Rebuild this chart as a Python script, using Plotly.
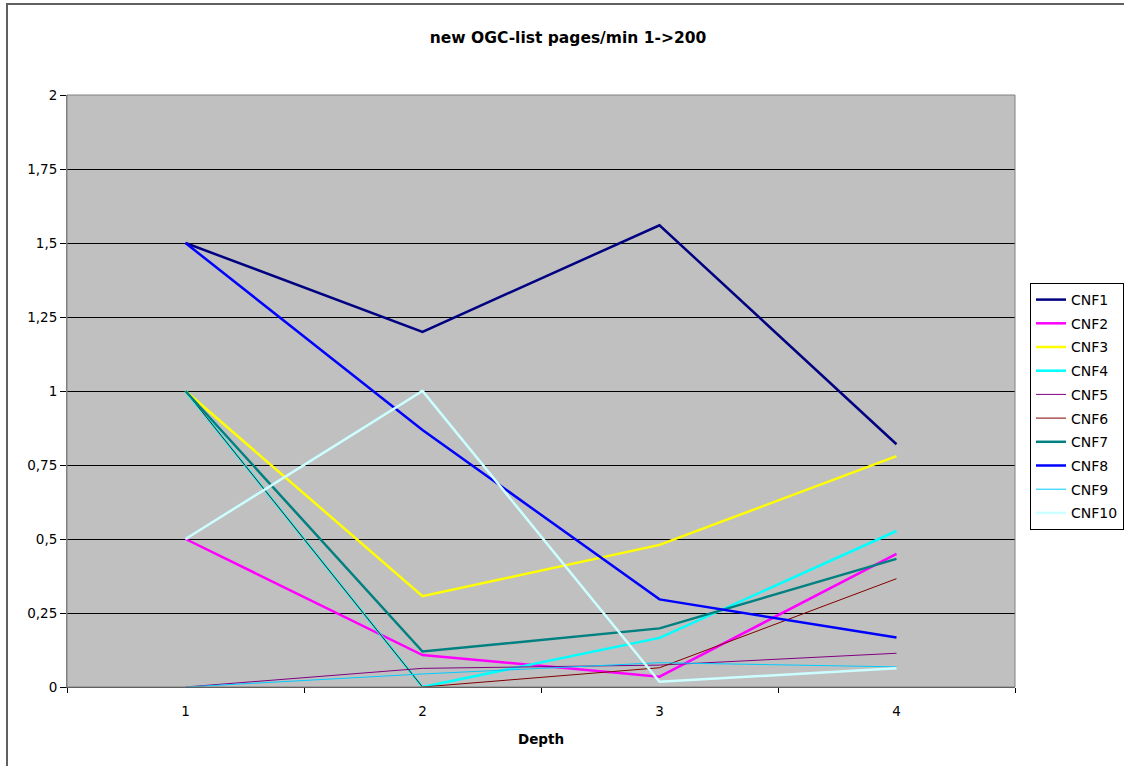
import plotly.graph_objects as go

# Crawl depth levels on the x axis
depth = [1, 2, 3, 4]

# Throughput (pages/min) per configuration at each depth
cnf1 = [1.5, 1.2, 1.56, 0.82]
cnf2 = [0.5, 0.108, 0.035, 0.45]
cnf3 = [1.0, 0.307, 0.48, 0.78]
cnf4 = [1.0, 0.0, 0.166, 0.527]
cnf5 = [0.0, 0.063, 0.074, 0.114]
cnf6 = [1.0, 0.0, 0.065, 0.366]
cnf7 = [1.0, 0.12, 0.198, 0.433]
cnf8 = [1.5, 0.868, 0.296, 0.167]
cnf9 = [0.0, 0.044, 0.082, 0.068]
cnf10 = [0.5, 1.0, 0.018, 0.063]

y_ticks = [0, 0.25, 0.5, 0.75, 1, 1.25, 1.5, 1.75, 2]

series = [
    ("CNF1", cnf1, "#000080", 2.5),
    ("CNF2", cnf2, "#FF00FF", 2.5),
    ("CNF3", cnf3, "#FFFF00", 2.5),
    ("CNF4", cnf4, "#00FFFF", 2.5),
    ("CNF5", cnf5, "#800080", 1),
    ("CNF6", cnf6, "#800000", 1),
    ("CNF7", cnf7, "#008080", 2.5),
    ("CNF8", cnf8, "#0000FF", 2.5),
    ("CNF9", cnf9, "#00CCFF", 1),
    ("CNF10", cnf10, "#CCFFFF", 2.5),
]

FONT = "DejaVu Sans"
W, H = 1124, 766
L, R, T, B = 67, 109, 95, 79
PW, PH = W - L - R, H - T - B

fig = go.Figure()
for name, vals, color, width in series:
    fig.add_trace(go.Scatter(
        x=depth, y=vals, mode="lines", name=name,
        line=dict(color=color, width=width),
        legendgroup=name,
        hoverinfo="x+y+name",
    ))

# Invisible trace that carries the category-boundary tick marks
fig.add_trace(go.Scatter(x=[0.5, 4.5], y=[0, 0], xaxis="x2", mode="lines",
                         line=dict(width=0), showlegend=False, hoverinfo="skip"))

fig.update_layout(
    width=W, height=H,
    separators=",.",
    paper_bgcolor="white",
    plot_bgcolor="#C0C0C0",
    margin=dict(l=L, r=R, t=T, b=B, autoexpand=False),
    font=dict(family=FONT, size=13.5, color="black"),
    title=dict(text="<b>new OGC-list pages/min 1->200</b>",
               x=568 / W, xref="container", xanchor="center",
               y=1 - 38 / H, yref="container", yanchor="middle",
               font=dict(family=FONT, size=15.5, color="black")),
    showlegend=True,
    legend=dict(
        x=(1030 - L) / PW, xanchor="left",
        y=(H - B - 283) / PH, yanchor="top",
        bgcolor="white", bordercolor="black", borderwidth=1,
        font=dict(family=FONT, size=14, color="black"),
        tracegroupgap=2.5,
        itemwidth=30,
    ),
    xaxis=dict(
        range=[0.5, 4.5], tickvals=depth, ticktext=[str(d) for d in depth],
        ticks="outside", ticklen=12, tickcolor="rgba(0,0,0,0)",
        showgrid=False, zeroline=False,
        showline=True, linecolor="#404040", linewidth=1, mirror=False,
        title=dict(text="<b>Depth</b>", font=dict(family=FONT, size=13.5), standoff=16),
        fixedrange=True,
    ),
    xaxis2=dict(
        range=[0.5, 4.5], overlaying="x", side="bottom",
        tickvals=[0.5, 1.5, 2.5, 3.5, 4.5], showticklabels=False,
        ticks="outside", ticklen=5, tickcolor="black",
        showgrid=False, zeroline=False, showline=False,
        fixedrange=True,
    ),
    yaxis=dict(
        range=[0, 2], tickvals=y_ticks,
        ticks="outside", ticklen=6, tickcolor="black",
        showgrid=True, gridcolor="black", gridwidth=1,
        zeroline=False, showline=True, linecolor="#808080", linewidth=1,
        fixedrange=True,
    ),
    shapes=[
        # Plot-area frame
        dict(type="rect", xref="paper", yref="paper", x0=0, y0=0, x1=1, y1=1,
             line=dict(color="#808080", width=1), layer="above"),
        # Outer chart border
        dict(type="rect", xref="paper", yref="paper",
             x0=(7 - L) / PW, x1=(1140 - L) / PW,
             y0=(H - B - 790) / PH, y1=1 + (T - 4) / PH,
             line=dict(color="#606060", width=2)),
    ],
)

fig.write_html("out.html")
